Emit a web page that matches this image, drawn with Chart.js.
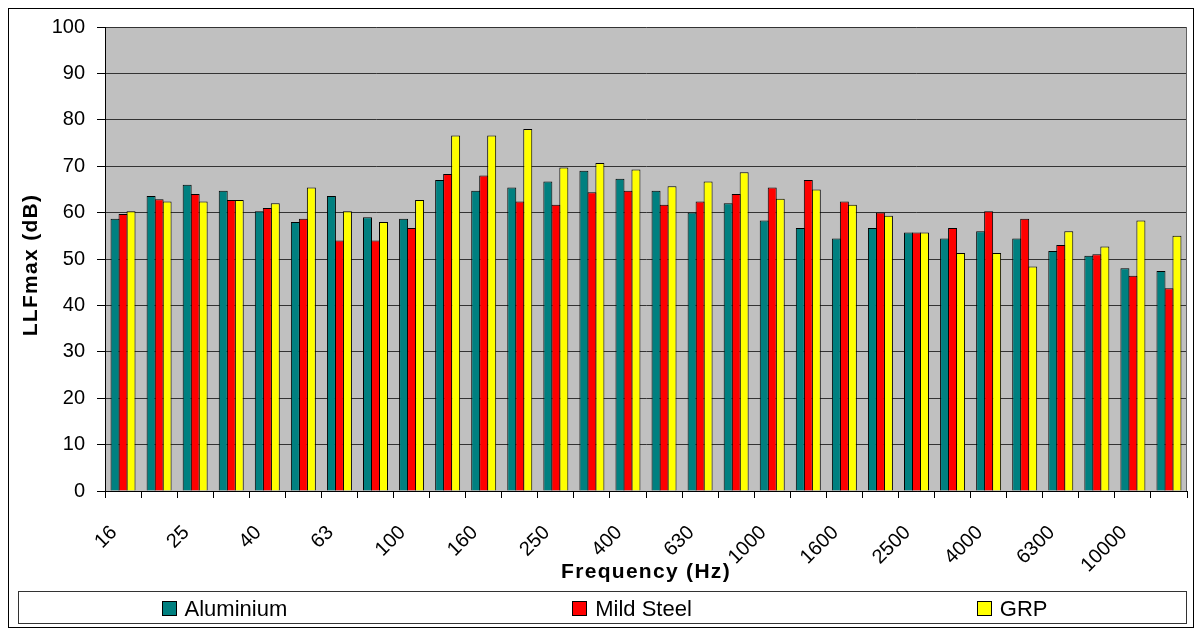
<!DOCTYPE html>
<html>
<head>
<meta charset="utf-8">
<script src="https://cdn.jsdelivr.net/npm/chart.js@4/dist/chart.umd.min.js"></script>
<style>
  html, body { margin: 0; padding: 0; background: #fff; }
  #wrap { width: 1200px; height: 628px; }
</style>
</head>
<body>
<div id="wrap"><canvas id="chart" width="1200" height="628"></canvas></div>
<script>
// One-third-octave band centre frequencies (Hz)
const categories = ['16', '20', '25', '31.5', '40', '50', '63', '80', '100', '125',
  '160', '200', '250', '315', '400', '500', '630', '800', '1000', '1250',
  '1600', '2000', '2500', '3150', '4000', '5000', '6300', '8000', '10000', '12500'];

// Bands that carry a printed label on the frequency axis
const tickLabels = ['16', '25', '40', '63', '100', '160', '250', '400', '630', '1000',
  '1600', '2500', '4000', '6300', '10000'];

// LLFmax (dB) per band for each panel material
const aluminium = [58.7, 63.6, 66.0, 64.7, 60.3, 58.0, 63.6, 59.0, 58.7, 67.0,
  64.7, 65.4, 66.7, 69.0, 67.3, 64.7, 60.0, 62.0, 58.3, 56.7,
  54.4, 56.7, 55.7, 54.4, 56.0, 54.4, 51.7, 50.7, 48.0, 47.4];
const mildSteel = [59.7, 62.9, 64.0, 62.7, 61.0, 58.7, 54.0, 54.0, 56.7, 68.3,
  68.0, 62.4, 61.7, 64.4, 64.7, 61.7, 62.4, 64.0, 65.4, 67.0,
  62.4, 60.0, 55.7, 56.7, 60.3, 58.7, 53.0, 51.0, 46.4, 43.7];
const grp = [60.3, 62.4, 62.4, 62.7, 62.0, 65.4, 60.3, 58.0, 62.7, 76.6,
  76.6, 78.0, 69.7, 70.7, 69.3, 65.7, 66.7, 68.7, 63.0, 65.0,
  61.7, 59.3, 55.7, 51.3, 51.3, 48.4, 56.0, 52.7, 58.3, 55.0];

const seriesNames = ['Aluminium', 'Mild Steel', 'GRP'];
const seriesColors = ['#008080', '#FF0000', '#FFFF00'];

const FONT = "'Liberation Sans', Arial, Helvetica, sans-serif";

// Grey plot area, outer frame, axis titles and the boxed legend row
const decorations = {
  id: 'decorations',
  beforeDraw(chart) {
    const { ctx, chartArea: a } = chart;
    ctx.save();
    ctx.fillStyle = '#ffffff';
    ctx.fillRect(0, 0, chart.width, chart.height);
    ctx.fillStyle = '#C0C0C0';
    ctx.fillRect(a.left, a.top, a.right - a.left, a.bottom - a.top);
    ctx.restore();
  },
  afterDraw(chart) {
    const { ctx, chartArea: a } = chart;
    ctx.save();

    // right edge of the plot area
    ctx.strokeStyle = '#606060';
    ctx.lineWidth = 1;
    ctx.beginPath();
    ctx.moveTo(Math.round(a.right) - 0.5, a.top);
    ctx.lineTo(Math.round(a.right) - 0.5, a.bottom);
    ctx.stroke();

    // outer chart frame
    ctx.strokeStyle = '#000';
    ctx.strokeRect(8.5, 8.5, 1185, 619);

    // axis titles
    ctx.fillStyle = '#000';
    ctx.font = 'bold 21px ' + FONT;
    if ('letterSpacing' in ctx) ctx.letterSpacing = '1.3px';
    ctx.textAlign = 'center';
    ctx.textBaseline = 'middle';
    ctx.fillText('Frequency (Hz)', (a.left + a.right) / 2, 572);
    ctx.save();
    ctx.translate(31, (a.top + a.bottom) / 2 + 6);
    ctx.rotate(-Math.PI / 2);
    ctx.fillText('LLFmax (dB)', 0, 0);
    ctx.restore();
    if ('letterSpacing' in ctx) ctx.letterSpacing = '0px';

    // legend frame
    const lx = 18.5, ly = 591.5, lw = a.right - 0.5 - lx, lh = 32;
    ctx.strokeStyle = '#333';
    ctx.strokeRect(lx, ly, lw, lh);

    // legend entries, evenly gapped and centred in the frame
    ctx.font = '22px ' + FONT;
    ctx.textAlign = 'left';
    ctx.textBaseline = 'alphabetic';
    const box = 14, boxGap = 9, itemGap = 285;
    const items = chart.data.datasets.map(ds => ({
      label: ds.label, color: ds.backgroundColor,
      w: box + boxGap + ctx.measureText(ds.label).width
    }));
    const total = items.reduce((s, it) => s + it.w, 0) + itemGap * (items.length - 1);
    let x = lx + lw / 2 + 2 - total / 2;
    items.forEach(it => {
      const bx = Math.round(x) + 0.5;
      ctx.fillStyle = it.color;
      ctx.fillRect(bx, 601.5, box, box);
      ctx.strokeStyle = '#000';
      ctx.strokeRect(bx, 601.5, box, box);
      ctx.fillStyle = '#000';
      ctx.fillText(it.label, x + box + boxGap, 616);
      x += it.w + itemGap;
    });
    ctx.restore();
  }
};

const seriesData = [aluminium, mildSteel, grp];

new Chart(document.getElementById('chart'), {
  type: 'bar',
  data: {
    labels: categories,
    datasets: seriesData.map((values, i) => ({
      label: seriesNames[i],
      data: values,
      backgroundColor: seriesColors[i],
      borderColor: '#000000',
      borderWidth: 1,
      categoryPercentage: 0.665,
      barPercentage: 1.125
    }))
  },
  options: {
    responsive: false,
    animation: false,
    layout: { padding: { left: 10, right: 13, top: 27, bottom: 40 } },
    plugins: {
      legend: { display: false },
      tooltip: { enabled: false },
      title: { display: false }
    },
    scales: {
      x: {
        grid: {
          offset: true,
          drawOnChartArea: false,
          drawTicks: true,
          tickLength: 7,
          color: '#000',
          tickColor: '#000'
        },
        border: { display: true, color: '#000', width: 1 },
        ticks: {
          autoSkip: false,
          minRotation: 45,
          maxRotation: 45,
          labelOffset: -9,
          padding: 23,
          color: '#000',
          font: { family: FONT, size: 20 },
          callback: (v, i) => tickLabels.includes(categories[i]) ? categories[i] : ''
        },
        afterFit: s => {
          s.height = 97;
          s.paddingLeft = 0;
          s.paddingRight = 0;
        }
      },
      y: {
        min: 0,
        max: 100,
        ticks: {
          stepSize: 10,
          padding: 12,
          color: '#000',
          font: { family: FONT, size: 20 }
        },
        grid: {
          color: '#333',
          tickColor: '#000',
          tickLength: 8,
          drawTicks: true
        },
        border: { display: true, color: '#000', width: 1 },
        afterFit: s => { s.width = 95; }
      }
    }
  },
  plugins: [decorations]
});
</script>
</body>
</html>
